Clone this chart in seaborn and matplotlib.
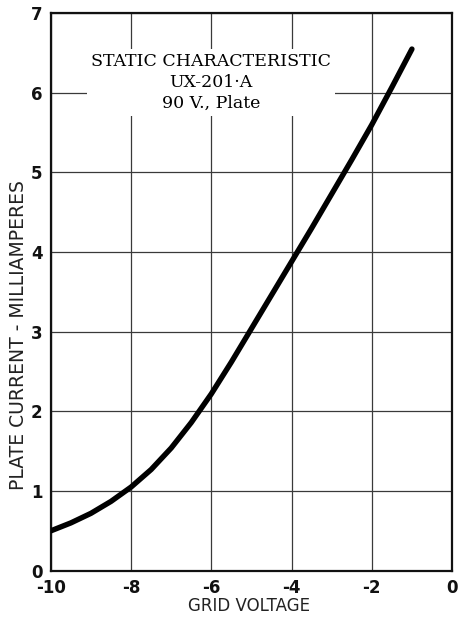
import numpy as np
import pandas as pd
import matplotlib
matplotlib.use("Agg")
import matplotlib.pyplot as plt
import seaborn as sns


# Data
grid_voltage = [-10, -9.5, -9, -8.5, -8, -7.5, -7, -6.5, -6, -5.5, -5, -4.5,
                -4, -3.5, -3, -2.5, -2, -1.5, -1]
plate_current = [0.50, 0.60, 0.72, 0.87, 1.05, 1.27, 1.54, 1.86, 2.22, 2.62,
                 3.04, 3.46, 3.88, 4.30, 4.73, 5.16, 5.60, 6.07, 6.55]

x_ticks = [-10, -8, -6, -4, -2, 0]
y_ticks = [0, 1, 2, 3, 4, 5, 6, 7]

title_lines = ["STATIC CHARACTERISTIC", "UX-201\u00b7A", "90 V., Plate"]

df = pd.DataFrame({"grid": grid_voltage, "current": plate_current})

sns.set_style("white")
plt.rcParams["font.family"] = ["DejaVu Sans"]

fig = plt.figure(figsize=(4.58, 6.18), dpi=100)
ax = fig.add_axes([0.111, 0.0766, 0.876, 0.902])

sns.lineplot(data=df, x="grid", y="current", ax=ax, color="black",
             linewidth=3.9, solid_capstyle="round", solid_joinstyle="round",
             zorder=4)

ax.set_xlim(-10, 0)
ax.set_ylim(0, 7)
ax.set_xticks(x_ticks)
ax.set_yticks(y_ticks)
ax.set_xticklabels([str(t) for t in x_ticks], fontsize=12, fontweight="bold")
ax.set_yticklabels([str(t) for t in y_ticks], fontsize=12, fontweight="bold")
ax.tick_params(axis="both", length=0, colors="#111111")
ax.tick_params(axis="x", pad=6)
ax.tick_params(axis="y", pad=6)

ax.grid(True, color="#3a3a3a", linewidth=0.9)
ax.set_axisbelow(True)
for side in ["left", "bottom", "top", "right"]:
    ax.spines[side].set_visible(True)
    ax.spines[side].set_color("#111111")
    ax.spines[side].set_linewidth(1.6)

ax.set_xlabel("GRID VOLTAGE", fontsize=12, color="#222222")
ax.set_ylabel("PLATE CURRENT - MILLIAMPERES", fontsize=13.5, color="#222222")
ax.xaxis.set_label_coords(0.494, -0.047)
ax.yaxis.set_label_coords(-0.058, 0.423)

ax.text(-6.0, 6.13, "\n".join(title_lines), ha="center", va="center",
        family="DejaVu Serif", fontsize=12.5, linespacing=1.3, color="black",
        bbox=dict(facecolor="white", edgecolor="none", pad=3), zorder=3)

fig.savefig("out.png", dpi=100)
